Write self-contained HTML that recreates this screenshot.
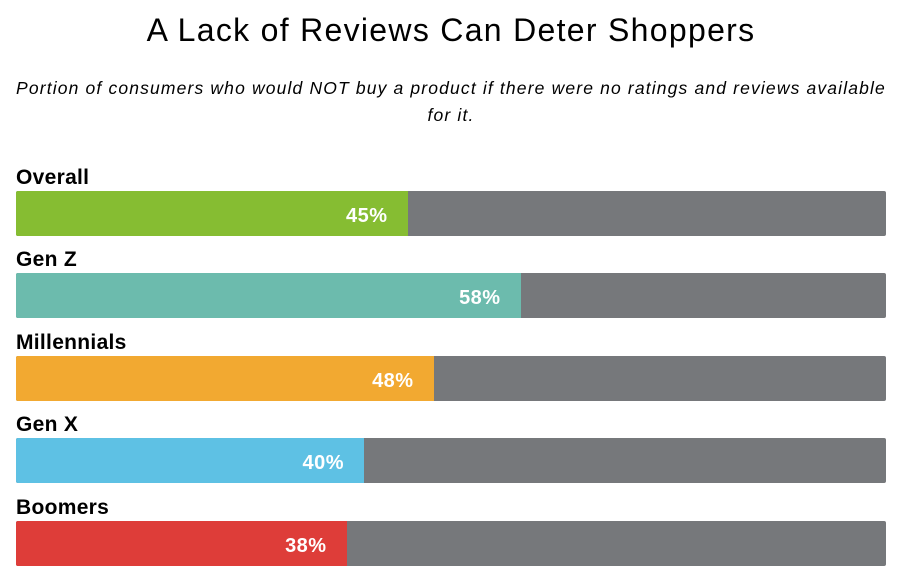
<!DOCTYPE html>
<html><head><meta charset="utf-8"><style>
body{margin:0;width:902px;height:588px;background:#fff;font-family:"Liberation Sans",sans-serif;position:relative;overflow:hidden;color:#000}
.t{position:absolute;left:0;width:902px;text-align:center;top:12px;font-size:32px;letter-spacing:1.3px}
.s{position:absolute;left:0;width:902px;text-align:center;top:75px;font-size:17.5px;letter-spacing:1.15px;font-style:italic;line-height:27px;white-space:nowrap}
.l{position:absolute;left:16px;font-size:21px;font-weight:bold;letter-spacing:0.3px}
.b{position:absolute;left:16px;width:870px;height:45px;background:#76787b;border-radius:2px;overflow:hidden}
.f{height:100%;color:#fff;font-weight:bold;font-size:20px;letter-spacing:0.5px;text-align:right;box-sizing:border-box;padding-right:20px;padding-top:3px;line-height:45px}
</style></head><body>
<div class="t">A Lack of Reviews Can Deter Shoppers</div>
<div class="s">Portion of consumers who would NOT buy a product if there were no ratings and reviews available<br>for it.</div>
<div class="l" style="top:166px">Overall</div>
<div class="b" style="top:191px"><div class="f" style="width:45%;background:#86bd32">45%</div></div>
<div class="l" style="top:248px">Gen Z</div>
<div class="b" style="top:273px"><div class="f" style="width:58%;background:#6cbbad">58%</div></div>
<div class="l" style="top:331px">Millennials</div>
<div class="b" style="top:356px"><div class="f" style="width:48%;background:#f2a931">48%</div></div>
<div class="l" style="top:413px">Gen X</div>
<div class="b" style="top:438px"><div class="f" style="width:40%;background:#5ec1e4">40%</div></div>
<div class="l" style="top:496px">Boomers</div>
<div class="b" style="top:521px"><div class="f" style="width:38%;background:#de3d39">38%</div></div>
</body></html>
